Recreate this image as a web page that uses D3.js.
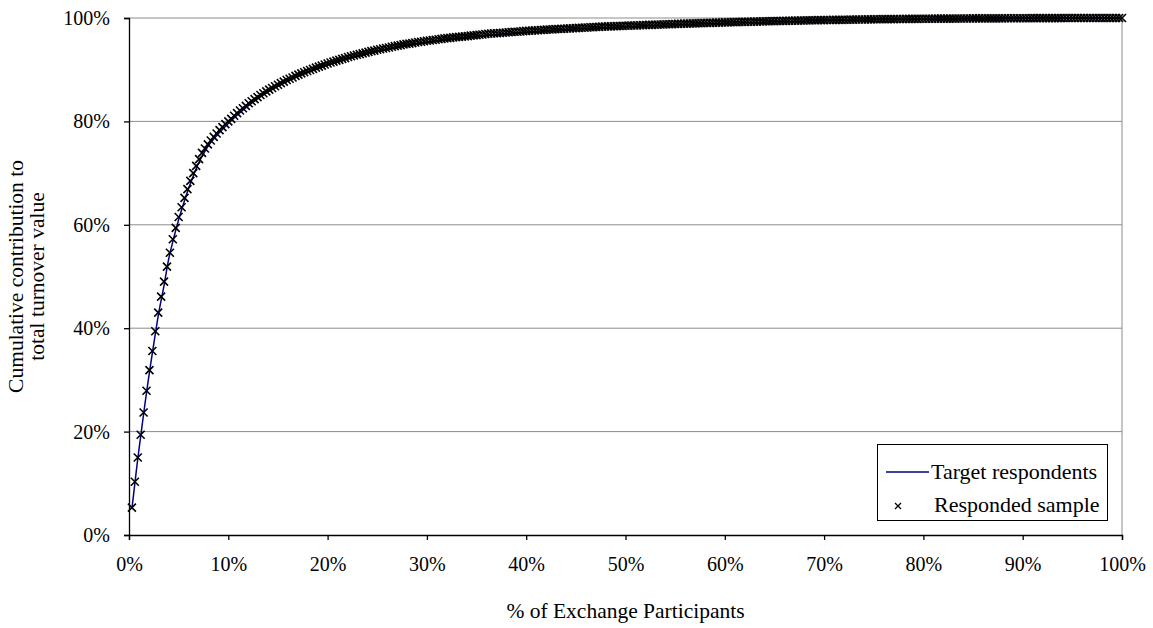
<!DOCTYPE html>
<html>
<head>
<meta charset="utf-8">
<script src="https://cdn.jsdelivr.net/npm/d3@7"></script>
<style>
  body { margin: 0; background: #fff; }
  svg text { font-family: "Liberation Serif", "Times New Roman", Times, serif; }
</style>
</head>
<body>
<div id="chart"></div>
<script>
// responded sample: cumulative share of turnover, one value per participant (evenly spaced on x)
var respondedShare = [
  5.3, 10.3, 15.0, 19.4, 23.7, 27.9, 31.9, 35.6, 39.4, 43.0,
  46.1, 49.0, 51.9, 54.6, 57.2, 59.4, 61.5, 63.4, 65.2, 66.9,
  68.5, 70.0, 71.4, 72.7, 73.9, 74.75, 75.55, 76.3, 77.0, 77.67,
  78.3, 78.9, 79.47, 80.0, 80.5, 81.1, 81.6, 82.1, 82.55, 83.0,
  83.5, 83.9, 84.3, 84.7, 85.1, 85.45, 85.8, 86.15, 86.45, 86.8,
  87.1, 87.4, 87.7, 88.0, 88.25, 88.5, 88.8, 89.05, 89.3, 89.5,
  89.75, 89.95, 90.15, 90.4, 90.6, 90.8, 91.0, 91.2, 91.4, 91.55,
  91.75, 91.9, 92.1, 92.25, 92.45, 92.6, 92.75, 92.9, 93.0, 93.15,
  93.3, 93.45, 93.6, 93.7, 93.85, 93.95, 94.1, 94.2, 94.3, 94.45,
  94.55, 94.65, 94.75, 94.9, 95.0, 95.05, 95.15, 95.25, 95.35, 95.4,
  95.5, 95.6, 95.65, 95.75, 95.8, 95.9, 95.95, 96.05, 96.1, 96.15,
  96.25, 96.3, 96.35, 96.4, 96.45, 96.5, 96.6, 96.65, 96.7, 96.75,
  96.8, 96.9, 96.95, 97.0, 97.05, 97.05, 97.1, 97.15, 97.2, 97.25,
  97.3, 97.35, 97.35, 97.4, 97.45, 97.5, 97.53, 97.57, 97.6, 97.64,
  97.68, 97.71, 97.75, 97.78, 97.81, 97.84, 97.87, 97.9, 97.93, 97.96,
  97.99, 98.02, 98.05, 98.08, 98.11, 98.14, 98.17, 98.2, 98.23, 98.26,
  98.29, 98.32, 98.35, 98.37, 98.39, 98.41, 98.43, 98.45, 98.47, 98.5,
  98.52, 98.54, 98.56, 98.58, 98.6, 98.62, 98.64, 98.66, 98.68, 98.7,
  98.72, 98.74, 98.76, 98.78, 98.8, 98.82, 98.85, 98.87, 98.89, 98.9,
  98.92, 98.94, 98.96, 98.97, 98.99, 99.01, 99.03, 99.04, 99.06, 99.08,
  99.1, 99.11, 99.13, 99.15, 99.16, 99.18, 99.19, 99.21, 99.22, 99.24,
  99.25, 99.27, 99.28, 99.3, 99.31, 99.33, 99.34, 99.36, 99.37, 99.39,
  99.4, 99.41, 99.42, 99.44, 99.45, 99.46, 99.47, 99.48, 99.5, 99.51,
  99.52, 99.53, 99.54, 99.56, 99.57, 99.58, 99.59, 99.6, 99.61, 99.62,
  99.63, 99.63, 99.64, 99.65, 99.66, 99.67, 99.68, 99.69, 99.7, 99.71,
  99.71, 99.72, 99.73, 99.74, 99.75, 99.76, 99.76, 99.77, 99.78, 99.78,
  99.79, 99.79, 99.8, 99.81, 99.81, 99.82, 99.82, 99.83, 99.84, 99.84,
  99.85, 99.85, 99.85, 99.86, 99.86, 99.87, 99.87, 99.88, 99.88, 99.88,
  99.89, 99.89, 99.89, 99.9, 99.9, 99.91, 99.91, 99.91, 99.92, 99.92,
  99.92, 99.93, 99.93, 99.93, 99.93, 99.94, 99.94, 99.94, 99.94, 99.95,
  99.95, 99.95, 99.95, 99.96, 99.96, 99.96, 99.96, 99.96, 99.97, 99.97,
  99.97, 99.97, 99.97, 99.98, 99.98, 99.98, 99.98, 99.98, 99.98, 99.99,
  99.99, 99.99, 99.99, 99.99, 99.99, 99.99, 99.99, 99.99, 100, 100,
  100, 100, 100, 100, 100, 100, 100, 100, 100, 100
];

// target respondents line
var targetX = [0.29, 0.59, 0.88, 1.18, 1.47, 1.76, 2.06, 2.35, 2.65, 2.94,
  3.5, 4, 4.5, 5, 5.5, 6, 6.5, 7, 7.5, 8, 9, 10, 11, 12, 13, 14, 15, 16, 17, 18,
  19, 20, 22, 24, 26, 28, 30, 33, 36, 40, 45, 50, 55, 60, 70, 80, 90, 100];
var targetY = [5.0, 10.0, 14.7, 19.1, 23.4, 27.5, 31.5, 35.2, 38.9, 42.4,
  48.0, 53.4, 57.4, 61.0, 64.1, 67.0, 69.6, 71.9, 73.7, 75.3, 77.6, 79.6, 81.4, 83.0, 84.4, 85.7, 86.8, 87.8, 88.7, 89.5,
  90.2, 90.9, 92.1, 93.1, 93.9, 94.7, 95.3, 96.0, 96.6, 97.2, 97.9, 98.3, 98.7, 99.0, 99.5, 99.8, 99.95, 100];

var xTicks = [0, 10, 20, 30, 40, 50, 60, 70, 80, 90, 100];
var yTicks = [0, 20, 40, 60, 80, 100];
var seriesNames = ['Target respondents', 'Responded sample'];

var width = 1153, height = 628;
var margin = {top: 18, right: 31, bottom: 93, left: 129};

var svg = d3.select('#chart').append('svg')
  .attr('width', width)
  .attr('height', height);

var x = d3.scaleLinear().domain([0, 100]).range([margin.left, width - margin.right]);
var y = d3.scaleLinear().domain([0, 100]).range([height - margin.bottom, margin.top]);

// gridlines
svg.append('g')
  .selectAll('line')
  .data(yTicks.filter(function(d){ return d > 0; }))
  .enter().append('line')
  .attr('x1', x(0)).attr('x2', x(100))
  .attr('y1', function(d){ return y(d); })
  .attr('y2', function(d){ return y(d); })
  .attr('stroke', '#8c8c8c')
  .attr('stroke-width', 1);

// right border of plot area
svg.append('line')
  .attr('x1', x(100)).attr('x2', x(100))
  .attr('y1', y(100)).attr('y2', y(0))
  .attr('stroke', '#8c8c8c')
  .attr('stroke-width', 1);

var fmt = function(d){ return d + '%'; };

var xAxis = svg.append('g')
  .attr('transform', 'translate(0,' + y(0) + ')')
  .call(d3.axisBottom(x).tickValues(xTicks).tickFormat(fmt).tickSize(5).tickPadding(17));
var yAxis = svg.append('g')
  .attr('transform', 'translate(' + x(0) + ',0)')
  .call(d3.axisLeft(y).tickValues(yTicks).tickFormat(fmt).tickSize(5).tickPadding(14));

[xAxis, yAxis].forEach(function(a){
  a.attr('font-family', null).attr('font-size', null);
  a.select('.domain').attr('stroke', '#000').attr('stroke-width', 1.3);
  a.selectAll('.tick line').attr('stroke', '#000').attr('stroke-width', 1.3);
  a.selectAll('.tick text').attr('fill', '#000').style('font-size', '20px');
});

// target line
var line = d3.line()
  .x(function(d){ return x(d[0]); })
  .y(function(d){ return y(d[1]); })
  .curve(d3.curveMonotoneX);

svg.append('path')
  .datum(targetX.map(function(v, i){ return [v, targetY[i]]; }))
  .attr('d', line)
  .attr('fill', 'none')
  .attr('stroke', '#000080')
  .attr('stroke-width', 1.5);

// responded sample markers
var n = respondedShare.length;
var cross = 'M-4,-4L4,4M-4,4L4,-4';
svg.append('g')
  .selectAll('path')
  .data(respondedShare)
  .enter().append('path')
  .attr('transform', function(d, i){ return 'translate(' + x((i + 1) / n * 100) + ',' + y(d) + ')'; })
  .attr('d', cross)
  .attr('stroke', '#000')
  .attr('stroke-width', 1.6)
  .attr('fill', 'none');

// axis titles
svg.append('text')
  .attr('x', (x(0) + x(100)) / 2)
  .attr('y', 618)
  .attr('text-anchor', 'middle')
  .style('font-size', '21.5px')
  .text('% of Exchange Participants');

var yt = svg.append('text')
  .attr('transform', 'translate(0,' + ((y(0) + y(100)) / 2) + ') rotate(-90)')
  .attr('text-anchor', 'middle')
  .style('font-size', '21.5px');
yt.append('tspan').attr('x', 0).attr('y', 23).text('Cumulative contribution to');
yt.append('tspan').attr('x', 0).attr('y', 44).text('total turnover value');

// legend
var lg = svg.append('g');
lg.append('rect')
  .attr('x', 877.5).attr('y', 444.5)
  .attr('width', 230).attr('height', 76)
  .attr('fill', '#fff')
  .attr('stroke', '#000')
  .attr('stroke-width', 1);
lg.append('line')
  .attr('x1', 886).attr('x2', 929)
  .attr('y1', 472).attr('y2', 472)
  .attr('stroke', '#000080').attr('stroke-width', 1.5);
lg.append('path')
  .attr('transform', 'translate(898,506)')
  .attr('d', 'M-3,-3L3,3M-3,3L3,-3')
  .attr('stroke', '#000').attr('stroke-width', 1.3);
lg.selectAll('text.lab')
  .data(seriesNames)
  .enter().append('text')
  .attr('class', 'lab')
  .attr('x', function(d, i){ return i === 0 ? 931 : 934; })
  .attr('y', function(d, i){ return 479 + i * 33; })
  .style('font-size', '22px')
  .text(function(d){ return d; });
</script>
</body>
</html>
